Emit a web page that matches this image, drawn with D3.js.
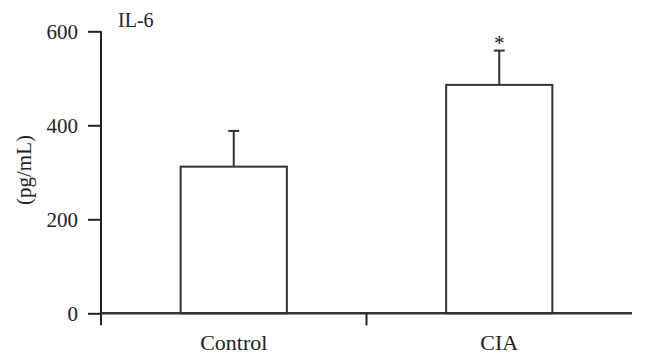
<!DOCTYPE html>
<html>
<head>
<meta charset="utf-8">
<script src="https://cdn.jsdelivr.net/npm/d3@7"></script>
<style>
  body { margin: 0; background: #fff; }
  text { font-family: "Liberation Serif", "Times New Roman", serif; fill: #222; }
</style>
</head>
<body>
<div id="canvas"></div>
<script>
const canvas = d3.select("#canvas");

// data
const groups = ["Control", "CIA"];
const means = [312, 486];
const errors = [76, 73];
const stars = ["", "*"];
const yTicks = [0, 200, 400, 600];

const createBarGraph = () => {
  const width = 646;
  const height = 364;
  const margin = { top: 31.3, left: 101, bottom: 50.7, right: 14 };
  const iwidth = width - margin.left - margin.right;
  const iheight = height - margin.top - margin.bottom;

  const svg = canvas.append("svg")
    .attr("width", width)
    .attr("height", height);

  const g = svg.append("g")
    .attr("transform", `translate(${margin.left},${margin.top})`);

  const x = d3.scaleBand().domain(groups).range([0, iwidth]).padding(0);
  const y = d3.scaleLinear().domain([0, 600]).range([iheight, 0]);
  const barW = x.bandwidth() * 0.4;

  // bars
  g.selectAll("rect.bar")
    .data(groups)
    .enter()
    .append("rect")
    .attr("class", "bar")
    .attr("x", (d) => x(d) + (x.bandwidth() - barW) / 2)
    .attr("y", (d, i) => y(means[i]))
    .attr("width", barW)
    .attr("height", (d, i) => iheight - y(means[i]))
    .attr("fill", "#fff")
    .attr("stroke", "#333")
    .attr("stroke-width", 2);

  // error bars (upper only)
  const cx = (d) => x(d) + x.bandwidth() / 2;
  g.selectAll("line.err")
    .data(groups)
    .enter()
    .append("line")
    .attr("class", "err")
    .attr("x1", cx).attr("x2", cx)
    .attr("y1", (d, i) => y(means[i]))
    .attr("y2", (d, i) => y(means[i] + errors[i]))
    .attr("stroke", "#333")
    .attr("stroke-width", 2);

  g.selectAll("line.cap")
    .data(groups)
    .enter()
    .append("line")
    .attr("class", "cap")
    .attr("x1", (d) => cx(d) - 5.5).attr("x2", (d) => cx(d) + 5.5)
    .attr("y1", (d, i) => y(means[i] + errors[i]))
    .attr("y2", (d, i) => y(means[i] + errors[i]))
    .attr("stroke", "#333")
    .attr("stroke-width", 2);

  g.selectAll("text.star")
    .data(groups)
    .enter()
    .append("text")
    .attr("class", "star")
    .attr("x", cx)
    .attr("y", (d, i) => y(means[i] + errors[i]) - 1)
    .attr("text-anchor", "middle")
    .style("font-size", "21px")
    .text((d, i) => stars[i]);

  // y axis
  const yAxis = g.append("g")
    .call(d3.axisLeft(y).tickValues(yTicks).tickSize(13).tickPadding(10));
  yAxis.select(".domain").remove();
  yAxis.selectAll("line").attr("stroke", "#222").attr("stroke-width", 2);
  yAxis.selectAll("text").style("font-size", "21px").attr("fill", "#222");

  g.append("line")
    .attr("x1", 0).attr("x2", 0)
    .attr("y1", 0).attr("y2", iheight + 12)
    .attr("stroke", "#222")
    .attr("stroke-width", 2);

  // x axis
  g.append("line")
    .attr("x1", 0).attr("x2", iwidth)
    .attr("y1", iheight).attr("y2", iheight)
    .attr("stroke", "#333")
    .attr("stroke-width", 2.5);

  const bounds = [x(groups[1])];
  g.selectAll("line.xtick")
    .data(bounds)
    .enter()
    .append("line")
    .attr("class", "xtick")
    .attr("x1", (d) => d).attr("x2", (d) => d)
    .attr("y1", iheight).attr("y2", iheight + 12)
    .attr("stroke", "#222")
    .attr("stroke-width", 2);

  g.selectAll("text.xlab")
    .data(groups)
    .enter()
    .append("text")
    .attr("class", "xlab")
    .attr("x", cx)
    .attr("y", iheight + 37)
    .attr("text-anchor", "middle")
    .style("font-size", "22px")
    .text((d) => d);

  // labels
  svg.append("text")
    .attr("transform", "translate(31,170) rotate(-90)")
    .attr("text-anchor", "middle")
    .style("font-size", "21px")
    .text("(pg/mL)");

  svg.append("text")
    .attr("x", 118)
    .attr("y", 27)
    .style("font-size", "20px")
    .text("IL-6");
};

createBarGraph();
</script>
</body>
</html>
